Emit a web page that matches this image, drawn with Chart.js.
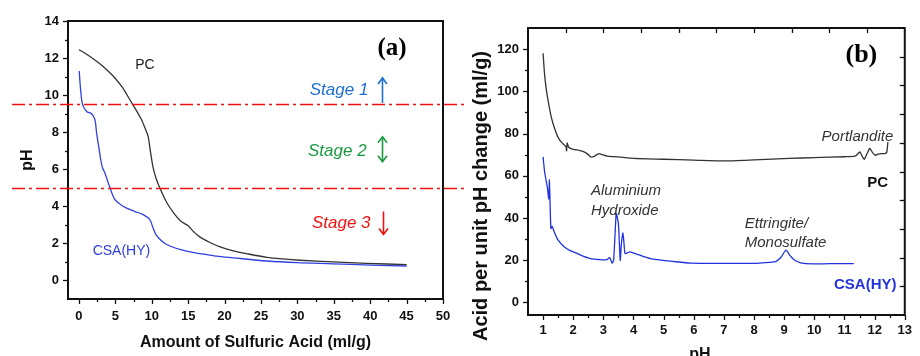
<!DOCTYPE html>
<html><head><meta charset="utf-8">
<script src="https://cdn.jsdelivr.net/npm/chart.js@4.4.0/dist/chart.umd.min.js"></script>
<style>
html,body{margin:0;padding:0;background:#fff;width:920px;height:356px;overflow:hidden}
#wa{position:absolute;left:0;top:0;width:470px;height:356px}
#wb{position:absolute;left:460px;top:0;width:460px;height:356px}
</style></head><body>
<div id="wa"><canvas id="ca"></canvas></div>
<div id="wb"><canvas id="cb"></canvas></div>
<script>
// ---------- Panel (a): pH vs amount of sulfuric acid ----------
const acidPC = [0,1,2,3,4,5,6,7,8,8.6,9.1,9.5,9.85,10.2,10.6,11.1,12,13,14,15,15.7,16.6,18,19.4,21.2,23,25.8,28,30.4,34.9,39.5,45];
const phPC   = [12.45,12.22,11.95,11.65,11.3,10.9,10.4,9.75,9.1,8.67,8.2,7.77,6.88,6.07,5.5,5.0,4.25,3.65,3.2,2.95,2.65,2.35,2.05,1.81,1.6,1.45,1.25,1.16,1.09,1.0,0.92,0.86];
const acidCSA = [0.04,0.23,0.5,1.06,1.74,2.2,2.43,2.79,3.0,3.25,3.57,4.26,4.95,5.7,6.55,7.7,8.83,9.75,10.1,10.67,12.05,14.8,18.9,21.2,25.8,30,34.9,40,45];
const phCSA   = [11.3,10.3,9.5,9.12,9.0,8.67,7.95,7.05,6.5,6.07,5.8,5.0,4.36,4.1,3.9,3.72,3.55,3.28,2.92,2.42,1.94,1.58,1.31,1.22,1.05,0.96,0.9,0.83,0.78];
const stageBounds = [9.5, 5];
const xTicksA = [0,5,10,15,20,25,30,35,40,45,50];
const xMinorA = [2.5,7.5,12.5,17.5,22.5,27.5,32.5,37.5,42.5,47.5];
const yTicksA = [0,2,4,6,8,10,12,14];
const yMinorA = [1,3,5,7,9,11,13];

// ---------- Panel (b): acid per unit pH change vs pH ----------
const phB_PC   = [1.0,1.05,1.11,1.2,1.27,1.38,1.49,1.6,1.72,1.76,1.78,1.8,1.85,2.0,2.2,2.36,2.5,2.58,2.7,2.85,3.0,3.12,3.5,4.0,5,6,7,8,9.17,10,11,11.35,11.45,11.51,11.58,11.65,11.75,11.84,11.93,12.02,12.15,12.33,12.4,12.44];
const acidB_PC = [118,108,100.6,93,87.9,82.5,78.4,76,74.3,73.7,71.8,75.5,73.5,72.5,72,71.3,70,68.9,69.2,70.5,69.8,69.3,68.9,68.2,67.8,67.4,67.0,67.5,68.2,68.6,69.0,69.3,70.5,71.3,69.5,67.7,70.5,72.9,71,69.7,70.4,70.5,71,76];
const phB_CSA   = [1.0,1.05,1.11,1.14,1.19,1.21,1.23,1.26,1.3,1.38,1.5,1.71,1.9,2.14,2.35,2.58,2.85,3.12,3.21,3.29,3.34,3.38,3.43,3.5,3.56,3.6,3.65,3.69,3.72,3.8,3.89,4.1,4.32,4.6,4.98,5.3,5.9,7,8.08,8.5,8.73,8.9,9.06,9.2,9.39,9.71,10.5,11.31];
const acidB_CSA = [68.9,62,57,54.7,49,58,48,35,36,33,29.5,26.2,24.5,23.1,21.8,20.7,20.3,20.2,21.2,18.6,20,30,42.1,37,19.9,28,32.9,27,23.1,23.5,23.9,22.8,21.8,20.6,19.9,19.4,18.6,18.5,18.5,18.9,19.4,21.5,24.7,22,19.6,18.3,18.3,18.3];
const xTicksB = [1,2,3,4,5,6,7,8,9,10,11,12,13];
const xMinorB = [1.5,2.5,3.5,4.5,5.5,6.5,7.5,8.5,9.5,10.5,11.5,12.5];
const yTicksB = [0,20,40,60,80,100,120];
const yMinorB = [10,30,50,70,90,110];
const twinTicks = [1,2,3,4,5,6,7,8,9];

const SANS = '"Liberation Sans", Arial, sans-serif';
const SERIF = '"Liberation Serif", "Times New Roman", serif';
Chart.defaults.font.family = SANS;

const pts = (xs, ys) => xs.map((x, i) => ({x, y: ys[i]}));
const setTicks = arr => s => { s.ticks = arr.map(v => ({value: v})); };

const frameTicks = {
  id: 'frameTicks',
  afterDraw(chart, args, o) {
    const {ctx, chartArea: a, scales} = chart;
    ctx.save();
    ctx.strokeStyle = '#111';
    ctx.lineWidth = 1.3;
    (o.marks || []).forEach(t => {
      const s = scales[t.scale];
      t.values.forEach(v => {
        const p = Math.round(s.getPixelForValue(v)) + 0.5;
        ctx.beginPath();
        if (t.side === 'left') { ctx.moveTo(a.left, p); ctx.lineTo(a.left - t.len, p); }
        else if (t.side === 'bottom') { ctx.moveTo(p, a.bottom); ctx.lineTo(p, a.bottom + t.len); }
        else if (t.side === 'top') { ctx.moveTo(p, a.top); ctx.lineTo(p, a.top + t.len); }
        else if (t.side === 'right') { ctx.moveTo(a.right, p); ctx.lineTo(a.right - t.len, p); }
        ctx.stroke();
      });
    });
    ctx.lineWidth = 2;
    ctx.strokeRect(a.left, a.top, a.right - a.left, a.bottom - a.top);
    ctx.restore();
  }
};

const notes = {
  id: 'notes',
  afterDraw(chart, args, o) {
    const {ctx, scales} = chart;
    ctx.save();
    (o.lines || []).forEach(l => {
      const y = Math.round(scales.y.getPixelForValue(l.value)) + 0.5;
      ctx.strokeStyle = l.color; ctx.lineWidth = 1.6; ctx.setLineDash(l.dash);
      ctx.beginPath(); ctx.moveTo(l.from, y); ctx.lineTo(l.to, y); ctx.stroke();
    });
    ctx.setLineDash([]);
    (o.items || []).forEach(it => {
      const x = scales.x.getPixelForValue(it.x), y = scales.y.getPixelForValue(it.y);
      ctx.font = it.font; ctx.fillStyle = it.color; ctx.textAlign = it.align || 'left'; ctx.textBaseline = 'middle';
      ctx.fillText(it.text, x, y);
    });
    (o.arrows || []).forEach(ar => {
      const x = Math.round(scales.x.getPixelForValue(ar.x)) + 0.5;
      const y1 = scales.y.getPixelForValue(ar.y1), y2 = scales.y.getPixelForValue(ar.y2);
      ctx.strokeStyle = ar.color; ctx.fillStyle = ar.color; ctx.lineWidth = 1.6;
      ctx.beginPath(); ctx.moveTo(x, y1); ctx.lineTo(x, y2); ctx.stroke();
      const head = (yy, dir) => { ctx.beginPath(); ctx.moveTo(x - 4.5, yy + dir * 6); ctx.lineTo(x, yy); ctx.lineTo(x + 4.5, yy + dir * 6); ctx.stroke(); };
      if (ar.kind === 'up' || ar.kind === 'both') head(Math.min(y1, y2), 1);
      if (ar.kind === 'down' || ar.kind === 'both') head(Math.max(y1, y2), -1);
    });
    (o.fixed || []).forEach(t => {
      ctx.save();
      ctx.translate(t.px, t.py); ctx.rotate(t.rot || 0);
      ctx.font = t.font; ctx.fillStyle = t.color; ctx.textAlign = 'center'; ctx.textBaseline = 'middle';
      ctx.fillText(t.text, 0, 0);
      ctx.restore();
    });
    ctx.restore();
  }
};

const tickFont = {family: SANS, size: 13, weight: 'bold'};

// ---------- Chart (a) ----------
new Chart(document.getElementById('ca'), {
  type: 'line',
  data: {
    datasets: [
      {label: 'PC', data: pts(acidPC, phPC), borderColor: '#333', borderWidth: 1.3, pointRadius: 0, tension: 0.3, fill: false},
      {label: 'CSA(HY)', data: pts(acidCSA, phCSA), borderColor: '#3040e0', borderWidth: 1.3, pointRadius: 0, tension: 0.3, fill: false}
    ]
  },
  options: {
    responsive: true, maintainAspectRatio: false, animation: false, devicePixelRatio: 1,
    layout: {padding: {top: 21, right: 27, left: 0, bottom: 0}},
    plugins: {
      legend: {display: false}, tooltip: {enabled: false},
      frameTicks: {marks: [
        {scale: 'y', side: 'left', values: yTicksA, len: 5},
        {scale: 'y', side: 'left', values: yMinorA, len: 3},
        {scale: 'x', side: 'bottom', values: xTicksA, len: 5},
        {scale: 'x', side: 'bottom', values: xMinorA, len: 3}
      ]},
      notes: {
        lines: stageBounds.map(v => ({value: v, color: '#f01010', dash: [13, 4, 3, 4], from: 12, to: 467})),
        items: [
          {text: '(a)', x: 43.0, y: 12.49, font: 'bold 25px ' + SERIF, color: '#000', align: 'center'},
          {text: 'PC', x: 9.07, y: 11.63, font: '14px ' + SANS, color: '#222', align: 'center'},
          {text: 'Stage 1', x: 31.7, y: 10.25, font: 'italic 17px ' + SANS, color: '#1c6fd2'},
          {text: 'Stage 2', x: 31.46, y: 6.96, font: 'italic 17px ' + SANS, color: '#1a9a40'},
          {text: 'Stage 3', x: 32.0, y: 3.11, font: 'italic 17px ' + SANS, color: '#f01010'},
          {text: 'CSA(HY)', x: 5.84, y: 1.58, font: '14px ' + SANS, color: '#3040e0', align: 'center'}
        ],
        arrows: [
          {x: 41.6, y1: 9.58, y2: 10.93, kind: 'up', color: '#1c6fd2'},
          {x: 41.6, y1: 7.75, y2: 6.41, kind: 'both', color: '#1a9a40'},
          {x: 41.8, y1: 3.72, y2: 2.48, kind: 'down', color: '#f01010'}
        ]
      }
    },
    scales: {
      x: {
        type: 'linear', min: -1.5, max: 50,
        afterBuildTicks: setTicks(xTicksA), afterFit: s => { s.height = 57; },
        grid: {display: false, drawTicks: false}, border: {display: false},
        ticks: {padding: 10, font: tickFont, color: '#111', maxRotation: 0, autoSkip: false},
        title: {display: true, text: 'Amount of Sulfuric Acid (ml/g)', font: {family: SANS, size: 16, weight: 'bold'}, color: '#111', padding: {top: 0, bottom: 4}}
      },
      y: {
        type: 'linear', min: -1, max: 14,
        afterBuildTicks: setTicks(yTicksA), afterFit: s => { s.width = 68; },
        grid: {display: false, drawTicks: false}, border: {display: false},
        ticks: {padding: 9, font: tickFont, color: '#111', autoSkip: false},
        title: {display: true, text: 'pH', font: {family: SANS, size: 16, weight: 'bold'}, color: '#111', padding: {top: 18, bottom: 0}}
      }
    }
  },
  plugins: [frameTicks, notes]
});

// ---------- Chart (b) ----------
new Chart(document.getElementById('cb'), {
  type: 'line',
  data: {
    datasets: [
      {label: 'PC', data: pts(phB_PC, acidB_PC), borderColor: '#333', borderWidth: 1.3, pointRadius: 0, tension: 0.2, fill: false},
      {label: 'CSA(HY)', data: pts(phB_CSA, acidB_CSA), borderColor: '#2233dd', borderWidth: 1.3, pointRadius: 0, tension: 0.2, fill: false}
    ]
  },
  options: {
    responsive: true, maintainAspectRatio: false, animation: false, devicePixelRatio: 1,
    layout: {padding: {top: 28, right: 8, left: 0, bottom: 0}},
    plugins: {
      legend: {display: false}, tooltip: {enabled: false},
      frameTicks: {marks: [
        {scale: 'y', side: 'left', values: yTicksB, len: 5},
        {scale: 'y', side: 'left', values: yMinorB, len: 3},
        {scale: 'x', side: 'bottom', values: xTicksB, len: 5},
        {scale: 'x', side: 'bottom', values: xMinorB, len: 3},
        {scale: 'x2', side: 'top', values: twinTicks, len: 5},
        {scale: 'y2', side: 'right', values: twinTicks, len: 5}
      ]},
      notes: {
        items: [
          {text: '(b)', x: 11.56, y: 116.9, font: 'bold 26px ' + SERIF, color: '#000', align: 'center'},
          {text: 'Portlandite', x: 11.43, y: 78.3, font: 'italic 15px ' + SANS, color: '#333', align: 'center'},
          {text: 'PC', x: 12.1, y: 56.5, font: 'bold 15px ' + SANS, color: '#111', align: 'center'},
          {text: 'Aluminium', x: 2.59, y: 52.7, font: 'italic 15px ' + SANS, color: '#333'},
          {text: 'Hydroxide', x: 2.59, y: 43.6, font: 'italic 15px ' + SANS, color: '#333'},
          {text: 'Ettringite/', x: 7.69, y: 37.0, font: 'italic 15px ' + SANS, color: '#333'},
          {text: 'Monosulfate', x: 7.69, y: 28.0, font: 'italic 15px ' + SANS, color: '#333'},
          {text: 'CSA(HY)', x: 11.69, y: 8.06, font: 'bold 15px ' + SANS, color: '#2233dd', align: 'center'}
        ],
        fixed: [
          {text: 'Acid per unit pH change (ml/g)', px: 21, py: 196, rot: -Math.PI / 2, font: 'bold 20px ' + SANS, color: '#111'},
          {text: 'pH', px: 240, py: 355, font: 'bold 16px ' + SANS, color: '#111'}
        ]
      }
    },
    scales: {
      x: {
        type: 'linear', min: 0.5, max: 13,
        afterBuildTicks: setTicks(xTicksB), afterFit: s => { s.height = 41; },
        grid: {display: false, drawTicks: false}, border: {display: false},
        ticks: {padding: 8, font: tickFont, color: '#111', maxRotation: 0, autoSkip: false}
      },
      y: {
        type: 'linear', min: -6, max: 130,
        afterBuildTicks: setTicks(yTicksB), afterFit: s => { s.width = 68; },
        grid: {display: false, drawTicks: false}, border: {display: false},
        ticks: {padding: 9, font: tickFont, color: '#111', autoSkip: false}
      },
      x2: {type: 'linear', position: 'top', min: 0, max: 10, display: false},
      y2: {type: 'linear', position: 'right', min: 0, max: 10, display: false}
    }
  },
  plugins: [frameTicks, notes]
});
</script>
</body></html>
